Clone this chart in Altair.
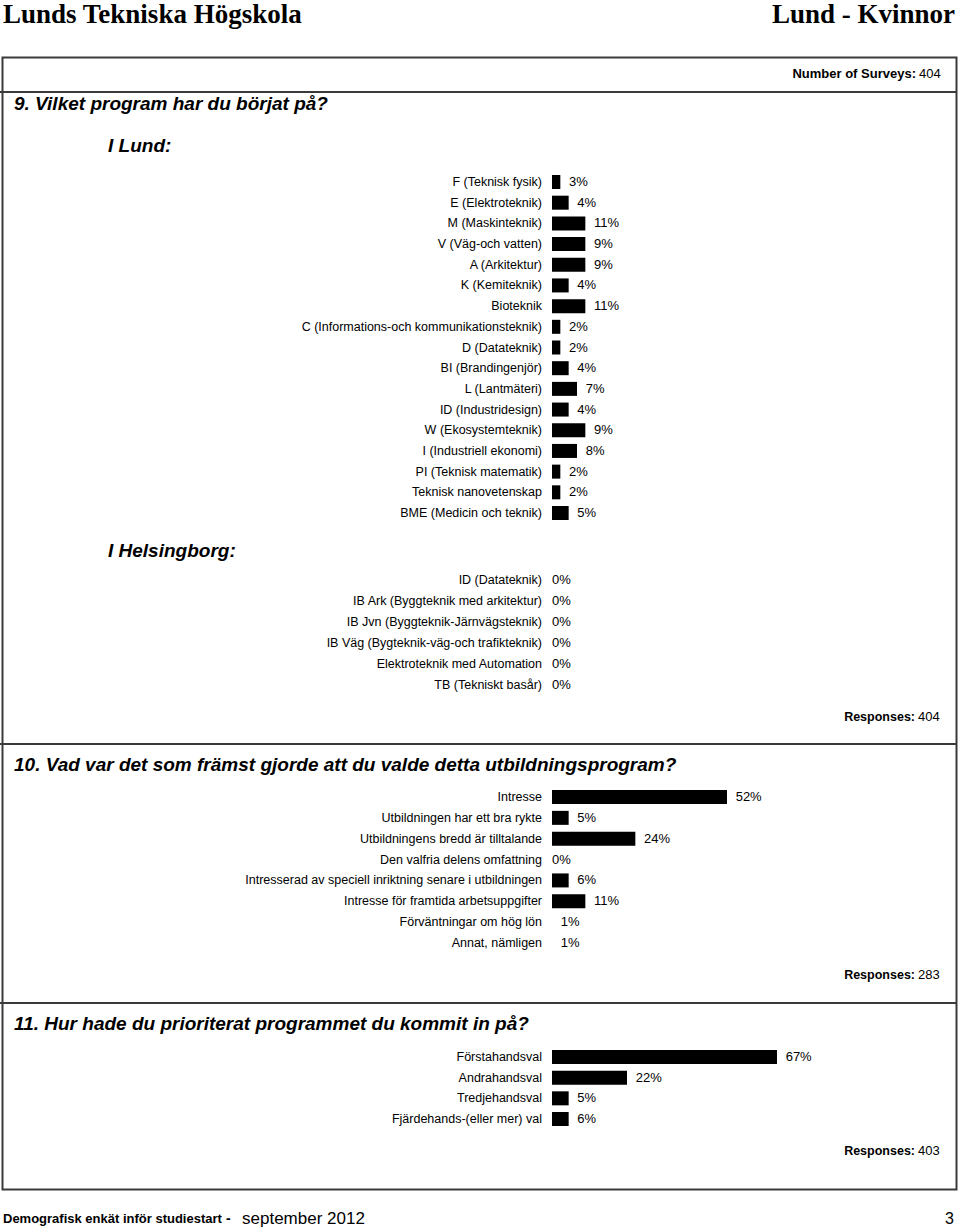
import altair as alt
import pandas as pd

# ---------------- data ----------------
lund_programs = [
    "F (Teknisk fysik)", "E (Elektroteknik)", "M  (Maskinteknik)", "V (Väg-och vatten)",
    "A  (Arkitektur)", "K (Kemiteknik)", "Bioteknik",
    "C (Informations-och kommunikationsteknik)", "D (Datateknik)", "BI (Brandingenjör)",
    "L (Lantmäteri)", "ID (Industridesign)", "W  (Ekosystemteknik)", "I (Industriell ekonomi)",
    "PI (Teknisk matematik)", "Teknisk nanovetenskap", "BME (Medicin och teknik)",
]
lund_pct = [3, 4, 11, 9, 9, 4, 11, 2, 2, 4, 7, 4, 9, 8, 2, 2, 5]

hbg_programs = [
    "ID (Datateknik)", "IB Ark (Byggteknik med arkitektur)", "IB Jvn (Byggteknik-Järnvägsteknik)",
    "IB Väg (Bygteknik-väg-och trafikteknik)", "Elektroteknik med Automation", "TB (Tekniskt basår)",
]
hbg_pct = [0, 0, 0, 0, 0, 0]

q10_answers = [
    "Intresse", "Utbildningen har ett bra rykte", "Utbildningens bredd är tilltalande",
    "Den valfria delens omfattning", "Intresserad av speciell inriktning senare i utbildningen",
    "Intresse för framtida arbetsuppgifter", "Förväntningar om hög lön", "Annat, nämligen",
]
q10_pct = [52, 5, 24, 0, 6, 11, 1, 1]

q11_answers = ["Förstahandsval", "Andrahandsval", "Tredjehandsval", "Fjärdehands-(eller mer) val"]
q11_pct = [67, 22, 5, 6]

SANS = "Liberation Sans, Arial, Helvetica, sans-serif"
SERIF = "Liberation Serif, Times New Roman, serif"
BLOCK = 2.5
LBL = 12.5
XS = alt.Scale(domain=[0, 100], range=[552, 885.33], zero=True, nice=False)


def section(cats, pcts, top, bottom):
    df = pd.DataFrame({"cat": cats, "pct": pcts})
    base = alt.Chart(df).transform_calculate(
        q=f"round(datum.pct / {BLOCK}) * {BLOCK}"
    ).transform_calculate(
        lx="datum.q + (datum.pct > 0 ? 2.6 : 0)",
        lab="datum.pct + '%'",
    )
    y = alt.Y("cat:N", sort=cats, axis=None,
              scale=alt.Scale(type="point", domain=cats, range=[top, bottom], padding=0))
    bars = base.mark_bar(color="black", size=14).encode(
        x=alt.X("q:Q", scale=XS, axis=None), y=y)
    labels = base.mark_text(align="right", baseline="middle", font=SANS, fontSize=LBL,
                            color="black").encode(x=alt.value(542), y=y, text="cat:N")
    pcts_t = base.mark_text(align="left", baseline="middle", font=SANS, fontSize=13,
                            color="black").encode(x=alt.X("lx:Q", scale=XS, axis=None), y=y,
                                                  text="lab:N")
    return alt.layer(bars, labels, pcts_t)


def txt(s, x, y, size, weight="normal", style="normal", align="left", font=SANS,
        baseline="middle"):
    return alt.Chart(alt.Data(values=[{"t": s}])).mark_text(
        align=align, baseline=baseline, fontSize=size, fontWeight=weight,
        fontStyle=style, font=font, color="black"
    ).encode(x=alt.value(x), y=alt.value(y), text="t:N")


def hline(y):
    return alt.Chart(alt.Data(values=[{}])).mark_rule(color="#3a3a3a", strokeWidth=2).encode(
        x=alt.value(0), x2=alt.value(957), y=alt.value(y))


frame = alt.Chart(alt.Data(values=[{}])).mark_rect(
    filled=False, stroke="#3a3a3a", strokeWidth=2
).encode(x=alt.value(2.5), x2=alt.value(956.5), y=alt.value(57.5), y2=alt.value(1189.5))

deco = [
    frame, hline(92), hline(744), hline(1003),
    txt("Lunds Tekniska Högskola", 3, 23, 27, weight="bold", font=SERIF, baseline="alphabetic"),
    txt("Lund - Kvinnor", 955, 23, 27, weight="bold", align="right", font=SERIF,
        baseline="alphabetic"),
    txt("Number of Surveys:", 916, 74, 13, weight="bold", align="right"),
    txt("404", 919, 74, 13),
    txt("9. Vilket program har du börjat på?", 14, 104, 19, weight="bold", style="italic"),
    txt("I Lund:", 108, 146, 19, weight="bold", style="italic"),
    txt("I Helsingborg:", 108, 551, 19, weight="bold", style="italic"),
    txt("Responses:", 915, 717, 12.5, weight="bold", align="right"),
    txt("404", 918, 717, 13),
    txt("10. Vad var det som främst gjorde att du valde detta utbildningsprogram?", 14, 765, 19,
        weight="bold", style="italic"),
    txt("Responses:", 915, 975, 12.5, weight="bold", align="right"),
    txt("283", 918, 975, 13),
    txt("11. Hur hade du prioriterat programmet du kommit in på?", 14, 1024, 19,
        weight="bold", style="italic"),
    txt("Responses:", 915, 1151, 12.5, weight="bold", align="right"),
    txt("403", 918, 1151, 13),
    txt("Demografisk enkät inför studiestart", 3, 1219, 13, weight="bold"),
    txt("-", 226, 1219, 14, weight="bold"),
    txt("september 2012", 242, 1219, 17),
    txt("3", 954, 1219, 16, align="right"),
]

sections = [
    section(lund_programs, lund_pct, 182, 513),
    section(hbg_programs, hbg_pct, 580, 685),
    section(q10_answers, q10_pct, 797, 943),
    section(q11_answers, q11_pct, 1057, 1119),
]

chart = alt.layer(*deco, *sections).resolve_scale(y="independent").properties(
    width=960, height=1231, autosize=alt.AutoSizeParams(type="none"), padding=0
).configure_view(stroke=None)

chart.save("out.html", embed_options={"renderer": "svg", "actions": False})
